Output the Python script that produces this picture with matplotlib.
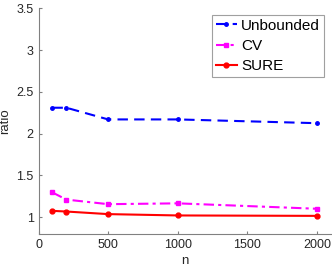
import matplotlib
matplotlib.use("Agg")
import matplotlib.pyplot as plt

# --- data ---
n = [100, 200, 500, 1000, 2000]
unbounded = [2.31, 2.31, 2.17, 2.17, 2.125]
cv = [1.295, 1.21, 1.155, 1.165, 1.10]
sure = [1.075, 1.067, 1.036, 1.02, 1.015]

plt.rcParams['font.family'] = ['Liberation Sans', 'DejaVu Sans']

fig = plt.figure(figsize=(3.32, 2.70), dpi=100)
ax = fig.add_axes([0.116, 0.134, 0.881, 0.835])

ax.plot(n, unbounded, color='#0000ff', ls=(0, (5, 3)), lw=1.5, marker='.', ms=5, label='Unbounded')
ax.plot(n, cv, color='#ff00ff', ls=(0, (5, 2, 1.5, 2)), lw=1.5, marker='s', ms=3.5, label='CV')
ax.plot(n, sure, color='#ff0000', ls='-', lw=1.5, marker='o', ms=3.5, label='SURE')

ax.set_xlim(0, 2100)
ax.set_ylim(0.8, 3.5)
ax.set_xticks([0, 500, 1000, 1500, 2000])
ax.set_yticks([1, 1.5, 2, 2.5, 3, 3.5])
ax.set_yticklabels(['1', '1.5', '2', '2.5', '3', '3.5'])

for s in ['top', 'right']:
    ax.spines[s].set_visible(False)
for s in ['left', 'bottom']:
    ax.spines[s].set_color('#808080')
ax.tick_params(colors='#262626', labelsize=9, length=2.5, direction='in')
ax.tick_params(axis='both', color='#808080')

ax.set_xlabel('n', fontsize=9.5, color='#262626', labelpad=3)
ax.set_ylabel('ratio', fontsize=9.5, color='#262626', labelpad=4)

leg = ax.legend(loc='upper right', bbox_to_anchor=(0.985, 0.985), fontsize=11,
                fancybox=False, framealpha=1, edgecolor='#a0a0a0',
                handlelength=1.4, handletextpad=0.25, borderpad=0.25,
                labelspacing=0.42, borderaxespad=0.2)
leg.get_frame().set_linewidth(0.8)

fig.savefig('out.png', dpi=100)
